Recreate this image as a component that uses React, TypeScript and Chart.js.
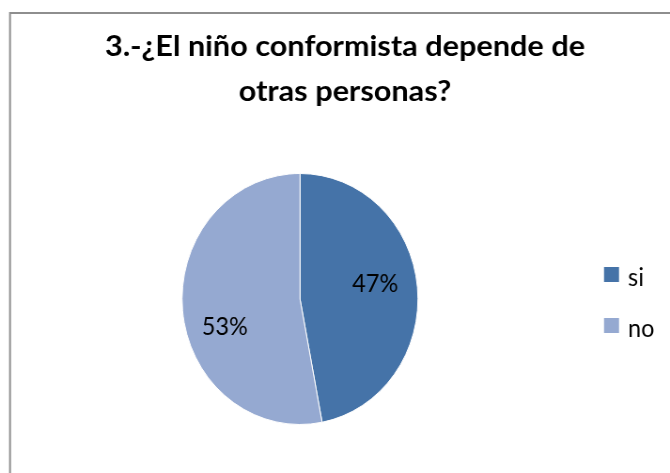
import { useEffect, useRef } from "react";
import { Chart, registerables } from "chart.js";

Chart.register(...registerables);

// ---- data ----
const categories = ["si", "no"];
const values = [47, 53];
const sliceColors = ["#4573A8", "#95A9D1"];
const titleLines = ["3.-¿El niño conformista depende de", "otras personas?"];

// ---- layout / style ----
const SCREEN_W = 670;
const SCREEN_H = 473;
const CANVAS_W = 713; // drawn wider, shown squeezed (matches reference aspect)
const S = SCREEN_W / CANVAS_W;
const X = (sx: number) => sx / S;
const FONT = "Lato, 'Open Sans', 'DejaVu Sans', sans-serif";

const decorPlugin = {
  id: "decor",
  beforeDraw(chart: any) {
    const ctx = chart.ctx as CanvasRenderingContext2D;
    ctx.save();
    ctx.fillStyle = "#ffffff";
    ctx.fillRect(0, 0, chart.width, chart.height);
    ctx.strokeStyle = "#8e8e8e";
    ctx.lineWidth = 2;
    ctx.strokeRect(X(10), 13, chart.width + 40, chart.height + 40);
    ctx.restore();
  },
  afterDraw(chart: any) {
    const ctx = chart.ctx as CanvasRenderingContext2D;
    ctx.save();
    ctx.fillStyle = "#000000";

    // title
    ctx.font = `bold 28px ${FONT}`;
    ctx.textAlign = "center";
    ctx.textBaseline = "alphabetic";
    const w0 = ctx.measureText(titleLines[0]).width;
    const k = X(480) / w0;
    const titleBaselines = [56, 101];
    titleLines.forEach((line, i) => {
      ctx.save();
      ctx.translate(X(345), titleBaselines[i]);
      ctx.scale(k, 1);
      ctx.fillText(line, 0, 0);
      ctx.restore();
    });

    // data labels
    const meta = chart.getDatasetMeta(0);
    const data = chart.data.datasets[0].data as number[];
    const total = data.reduce((a, b) => a + b, 0);
    ctx.font = `25px ${FONT}`;
    ctx.textAlign = "center";
    ctx.textBaseline = "middle";
    meta.data.forEach((arc: any, i: number) => {
      const p = arc.getProps(["x", "y", "startAngle", "endAngle", "outerRadius"], true);
      const mid = (p.startAngle + p.endAngle) / 2 - (9.6 * Math.PI) / 180;
      const r = p.outerRadius * 0.66;
      const lx = p.x + Math.cos(mid) * r;
      const ly = p.y + Math.sin(mid) * r + 6;
      const txt = `${Math.round((data[i] / total) * 100)}%`;
      const tw = ctx.measureText(txt).width;
      const kk = X(46) / tw;
      ctx.save();
      ctx.translate(lx, ly);
      ctx.scale(kk, 1);
      ctx.fillText(txt, 0, 0);
      ctx.restore();
    });

    // legend
    ctx.font = `25px ${FONT}`;
    ctx.textAlign = "left";
    ctx.textBaseline = "alphabetic";
    const labels = chart.data.labels as string[];
    const colors = chart.data.datasets[0].backgroundColor as string[];
    labels.forEach((lab, i) => {
      const top = 267 + i * 51;
      ctx.fillStyle = colors[i];
      ctx.fillRect(X(604), top, X(15), 15);
      ctx.fillStyle = "#000000";
      ctx.fillText(lab, X(628), top + 19);
    });

    ctx.restore();
  },
};

export default function App() {
  const ref = useRef<HTMLCanvasElement | null>(null);

  useEffect(() => {
    const canvas = ref.current;
    if (!canvas) return;
    const R = 126;
    const cx = X(300);
    const cy = 299;
    const chart = new Chart(canvas, {
      type: "pie",
      data: {
        labels: categories,
        datasets: [
          {
            data: values,
            backgroundColor: sliceColors,
            borderColor: "#ffffff",
            borderWidth: 1,
          },
        ],
      },
      options: {
        responsive: false,
        animation: false,
        devicePixelRatio: 1,
        layout: {
          padding: {
            left: cx - R,
            right: CANVAS_W - (cx + R),
            top: cy - R,
            bottom: SCREEN_H - (cy + R),
          },
        },
        plugins: {
          legend: { display: false },
          title: { display: false },
          tooltip: { enabled: false },
        },
      },
      plugins: [decorPlugin],
    });
    return () => chart.destroy();
  }, []);

  return (
    <div
      style={{
        position: "absolute",
        left: 0,
        top: 0,
        width: SCREEN_W,
        height: SCREEN_H,
        background: "#fff",
        overflow: "hidden",
      }}
    >
      <canvas
        ref={ref}
        width={CANVAS_W}
        height={SCREEN_H}
        style={{ width: SCREEN_W + "px", height: SCREEN_H + "px", display: "block" }}
      />
    </div>
  );
}
